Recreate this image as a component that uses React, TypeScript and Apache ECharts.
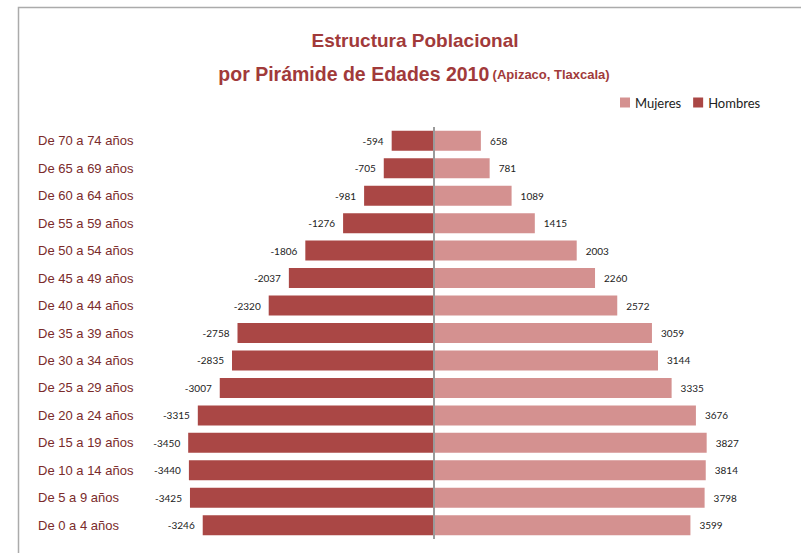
import React, { useEffect, useRef } from "react";
import * as echarts from "echarts";

const categories = [
  "De 0 a 4 años", "De 5 a 9 años", "De 10 a 14 años", "De 15 a 19 años", "De 20 a 24 años",
  "De 25 a 29 años", "De 30 a 34 años", "De 35 a 39 años", "De 40 a 44 años", "De 45 a 49 años",
  "De 50 a 54 años", "De 55 a 59 años", "De 60 a 64 años", "De 65 a 69 años", "De 70 a 74 años",
];
const hombres = [-3246, -3425, -3440, -3450, -3315, -3007, -2835, -2758, -2320, -2037, -1806, -1276, -981, -705, -594];
const mujeres = [3599, 3798, 3814, 3827, 3676, 3335, 3144, 3059, 2572, 2260, 2003, 1415, 1089, 781, 658];
const titleLine1 = "Estructura Poblacional";
const titleLine2 = "por Pirámide de Edades 2010";
const titleSub = "(Apizaco, Tlaxcala)";

export default function App() {
  const ref = useRef<HTMLDivElement>(null);
  useEffect(() => {
    if (!ref.current) return;
    const chart = echarts.init(ref.current, null, { renderer: "svg" });
    const titleColor = "#a13a3a";
    chart.setOption({
      animation: false,
      backgroundColor: "#ffffff",
      graphic: [
        {
          type: "rect",
          shape: { x: 18.5, y: 7.5, width: 800, height: 560 },
          style: { fill: "none", stroke: "#ababab", lineWidth: 1.5 },
          silent: true,
        },
        {
          type: "text",
          x: 415,
          y: 40,
          style: {
            text: titleLine1,
            fill: titleColor,
            font: "bold 19px 'Liberation Sans', Arial, sans-serif",
            align: "center",
            verticalAlign: "middle",
          },
        },
        {
          type: "text",
          x: 414,
          y: 74,
          style: {
            text: "{a|" + titleLine2 + "} {b|" + titleSub + "}",
            align: "center",
            verticalAlign: "middle",
            rich: {
              a: { fill: titleColor, fontSize: 19.5, fontWeight: "bold", fontFamily: "'Liberation Sans', Arial, sans-serif" },
              b: { fill: titleColor, fontSize: 13, fontWeight: "bold", fontFamily: "'Liberation Sans', Arial, sans-serif" },
            },
          },
        },
      ],
      legend: {
        data: ["Mujeres", "Hombres"],
        left: 615,
        top: 91,
        itemWidth: 10,
        itemHeight: 10,
        itemGap: 12,
        icon: "rect",
        textStyle: { fontSize: 13, color: "#222", fontFamily: "Lato, 'Open Sans', sans-serif" },
      },
      grid: { left: 149, right: 82, top: 127, bottom: 14, containLabel: false },
      xAxis: {
        type: "value",
        min: -4000,
        max: 4000,
        show: false,
      },
      yAxis: {
        type: "category",
        data: categories,
        axisLine: { show: false, onZero: false },
        axisTick: { show: false },
        axisLabel: {
          align: "left",
          margin: 111,
          fontSize: 13,
          color: "#7a2b2b",
          fontFamily: "'Liberation Sans', Arial, sans-serif",
        },
      },
      series: [
        {
          name: "Hombres",
          type: "bar",
          data: hombres,
          barWidth: 20,
          barGap: "-100%",
          itemStyle: { color: "#aa4745" },
          label: {
            show: true,
            position: "left",
            distance: 8,
            fontSize: 10,
            color: "#222",
            fontFamily: "Lato, 'Open Sans', sans-serif",
          },
          markLine: {
            silent: true,
            symbol: "none",
            label: { show: false },
            lineStyle: { color: "#9a9a9a", width: 2, type: "solid" },
            data: [{ xAxis: 0 }],
          },
        },
        {
          name: "Mujeres",
          type: "bar",
          data: mujeres,
          barWidth: 20,
          itemStyle: { color: "#d49190" },
          label: {
            show: true,
            position: "right",
            distance: 9,
            fontSize: 10,
            color: "#222",
            fontFamily: "Lato, 'Open Sans', sans-serif",
          },
        },
      ],
    });
    return () => chart.dispose();
  }, []);
  return <div ref={ref} style={{ position: "fixed", left: 0, top: 0, width: 801, height: 553 }} />;
}
